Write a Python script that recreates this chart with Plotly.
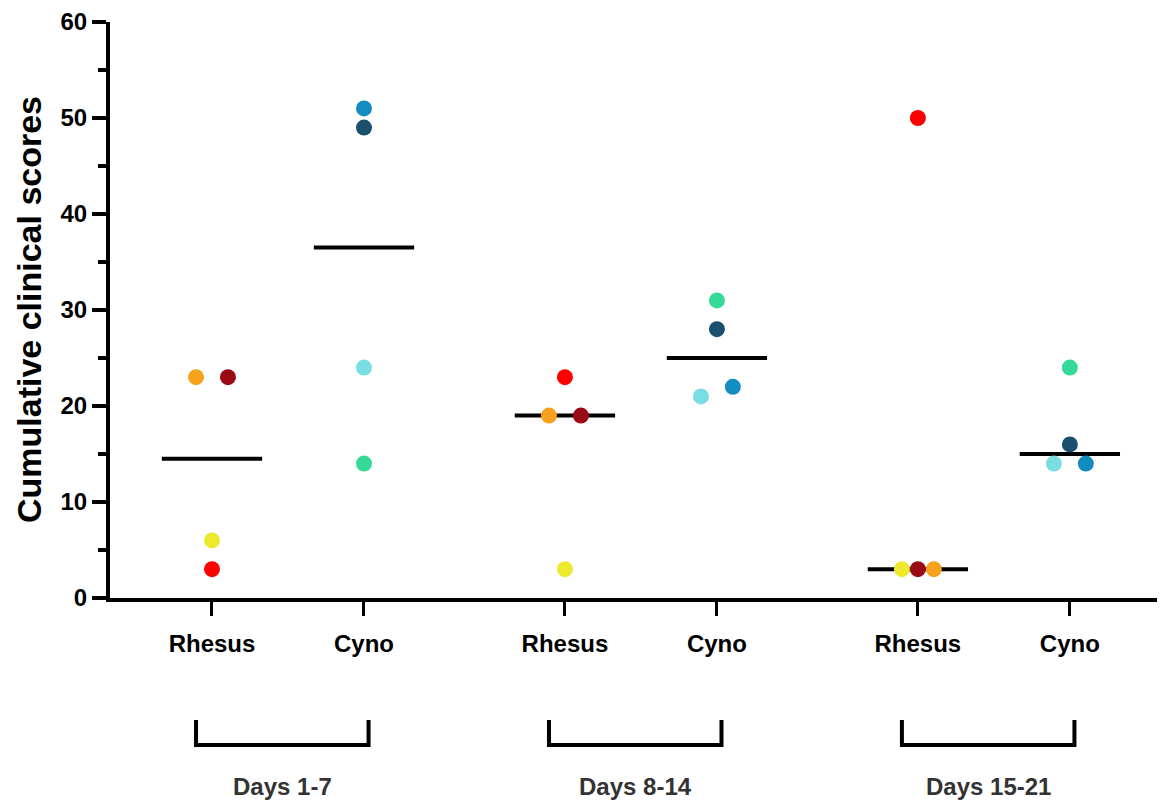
import numpy as np
import plotly.graph_objects as go

# ---- data ----
periods = ["Days 1-7", "Days 8-14", "Days 15-21"]
species = ["Rhesus", "Cyno"]

rhesus_colors = ["#F7A21E", "#9A0A14", "#EDEA2E", "#FF0000"]
cyno_colors = ["#138CBF", "#1A4F6E", "#7ADDE2", "#35DA98"]

rhesus_scores = [
    [23, 23, 6, 3],    # Days 1-7
    [19, 19, 3, 23],   # Days 8-14
    [3, 3, 3, 50],     # Days 15-21
]
cyno_scores = [
    [51, 49, 24, 14],
    [22, 28, 21, 31],
    [14, 16, 14, 24],
]
# jitter steps (-1 left, 0 centre, +1 right) for overlapping points
rhesus_jitter = [
    [-1, 1, 0, 0],
    [-1, 1, 0, 0],
    [1, 0, -1, 0],
]
cyno_jitter = [
    [0, 0, 0, 0],
    [1, 0, -1, 0],
    [1, 0, -1, 0],
]
y_title = "Cumulative clinical scores"

# ---- layout constants ----
group_gap = 1.322
jit_step = 0.105
half_med = 0.33
FONT = "Liberation Sans, Arial, sans-serif"

fig = go.Figure()

tickvals, ticktext = [], []
for gi, period in enumerate(periods):
    base = gi * (1 + group_gap)
    for si, (sp, scores, cols, jit) in enumerate(
        [("Rhesus", rhesus_scores, rhesus_colors, rhesus_jitter),
         ("Cyno", cyno_scores, cyno_colors, cyno_jitter)]):
        xc = base + si
        tickvals.append(xc)
        ticktext.append(sp)
        vals = scores[gi]
        med = float(np.median(vals))
        fig.add_trace(go.Scatter(
            x=[xc - half_med, xc + half_med], y=[med, med], mode="lines",
            line=dict(color="black", width=4), showlegend=False, hoverinfo="skip"))
        fig.add_trace(go.Scatter(
            x=[xc + j * jit_step for j in jit[gi]], y=vals, mode="markers",
            marker=dict(color=cols, size=16, line=dict(width=0)),
            showlegend=False, cliponaxis=False))
    # bracket and label
    x0 = base - 0.105
    x1 = base + 1 + 0.03
    fig.add_shape(type="path", xref="x", yref="paper",
                  path=f"M {x0},-0.2118 L {x0},-0.2552 L {x1},-0.2552 L {x1},-0.2118",
                  line=dict(color="black", width=4))
    fig.add_annotation(x=(x0 + x1) / 2, y=-0.328, xref="x", yref="paper",
                       xanchor="center", yanchor="middle",
                       text=period, showarrow=False,
                       font=dict(family=FONT, size=24, color="#333333", weight="bold"))

# y-axis title as rotated annotation
fig.add_annotation(x=-0.0771, y=0.5, xref="paper", yref="paper",
                   xanchor="center", yanchor="middle", textangle=-90,
                   text=y_title, showarrow=False,
                   font=dict(family=FONT, size=34, color="black", weight="bold"))

fig.update_layout(
    width=1157, height=794,
    margin=dict(l=102, r=5, t=14, b=204),
    paper_bgcolor="white", plot_bgcolor="white",
    font=dict(family=FONT, color="black"),
)
fig.update_xaxes(
    range=[-0.671, 6.237], tickvals=tickvals, ticktext=ticktext,
    showgrid=False, zeroline=False, showline=True, linecolor="black", linewidth=4,
    ticks="outside", ticklen=14, tickwidth=3, tickcolor="black",
    tickfont=dict(family=FONT, size=24, color="black", weight="bold"),
    ticklabelstandoff=7, automargin=False,
)
fig.update_yaxes(
    range=[0, 60], tickvals=[0, 10, 20, 30, 40, 50, 60],
    showgrid=False, zeroline=False, showline=True, linecolor="black", linewidth=4,
    ticks="outside", ticklen=14, tickwidth=4, tickcolor="black",
    minor=dict(dtick=5, ticks="outside", ticklen=8, tickwidth=4, tickcolor="black"),
    tickfont=dict(family=FONT, size=24, color="black", weight="bold"),
    ticklabeloverflow="allow",
    automargin=False,
)

fig.write_html("out.html")
